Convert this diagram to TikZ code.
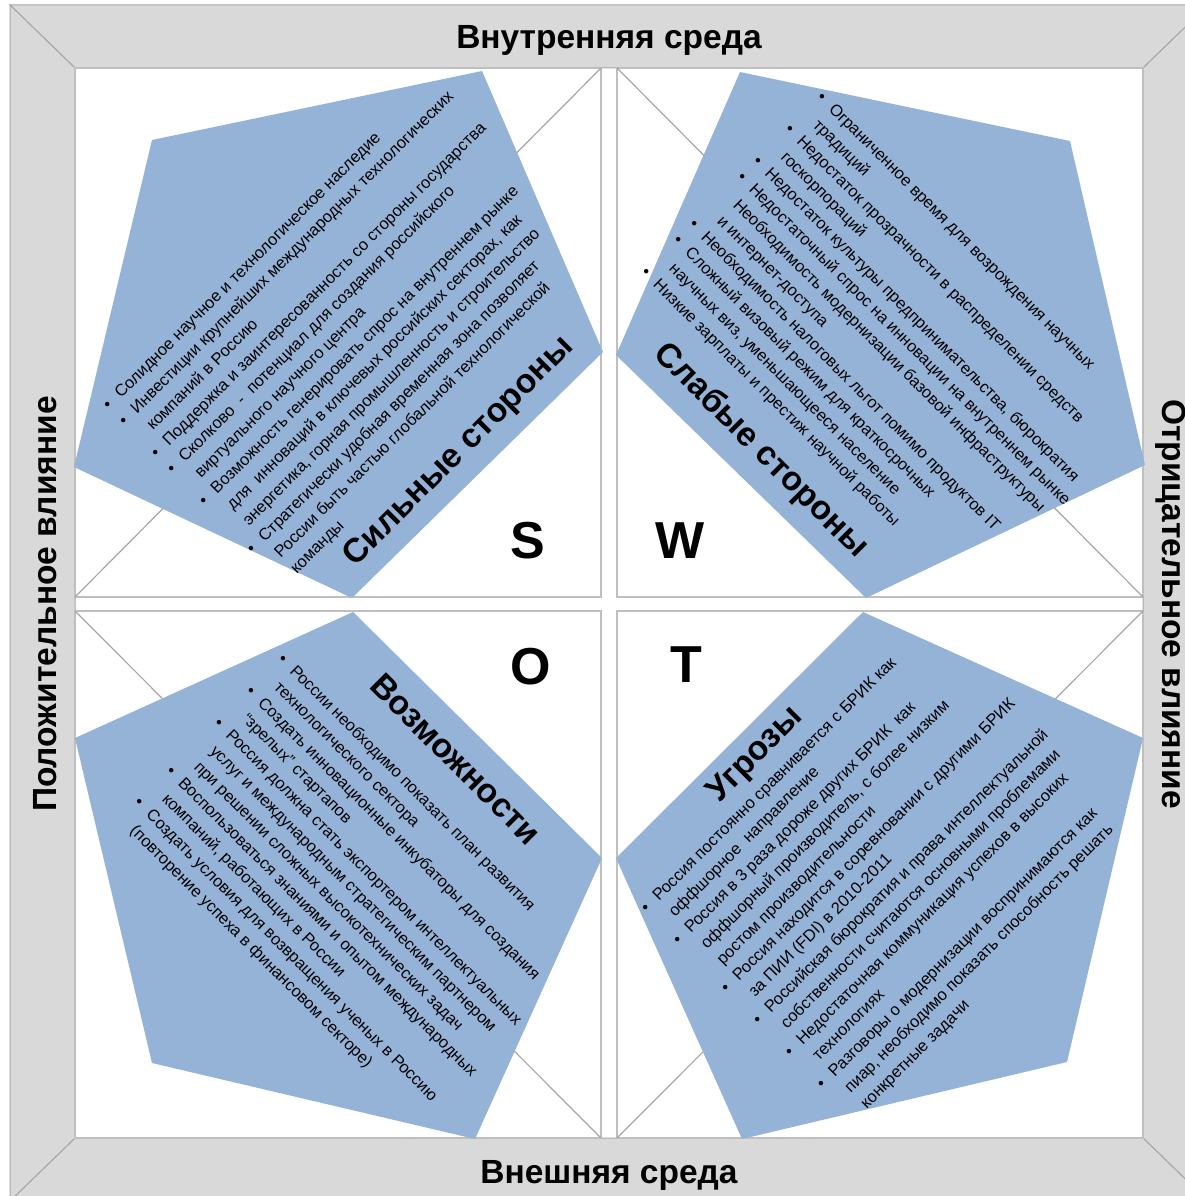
\documentclass[tikz,border=0pt]{standalone}
\usepackage{fontspec}
\setmainfont{Liberation Sans}
\definecolor{framegray}{RGB}{217,217,217}
\definecolor{framedark}{RGB}{166,166,166}
\definecolor{quadgray}{RGB}{191,191,191}
\definecolor{diaggray}{RGB}{166,166,166}
\definecolor{pentablue}{RGB}{149,179,215}
\newcommand{\bl}{\makebox[17pt][l]{\textbullet}}
\newcommand{\ct}{\hspace*{17pt}}
\begin{document}
\begin{tikzpicture}[x=1pt,y=-1pt,
  body/.style={inner sep=0pt, anchor=base west, font=\fontsize{16.5}{22.6}\selectfont},
  ttl/.style={font=\bfseries\fontsize{33.7}{36}\selectfont, inner sep=0pt},
  letter/.style={font=\bfseries\fontsize{52}{56}\selectfont, inner sep=0pt},
  side/.style={font=\bfseries\fontsize{33.5}{36}\selectfont, inner sep=0pt, anchor=base},
  frm/.style={fill=framegray, draw=framedark, line width=1pt},
  quad/.style={fill=white, draw=quadgray, line width=1.2pt},
  diag/.style={draw=diaggray, line width=1.2pt},
  penta/.style={fill=pentablue}]
\useasboundingbox (0,0) rectangle (1185,1196);
\begin{scope}
\clip (0,0) rectangle (1185,1196);
% frame
\coordinate (o1) at (10,5); \coordinate (o2) at (1208,5);
\coordinate (o3) at (1208,1201); \coordinate (o4) at (10,1201);
\coordinate (i1) at (75,68); \coordinate (i2) at (1143,68);
\coordinate (i3) at (1143,1138); \coordinate (i4) at (75,1138);
\path[frm] (o1) -- (o2) -- (i2) -- (i1) -- cycle;
\path[frm] (o2) -- (o3) -- (i3) -- (i2) -- cycle;
\path[frm] (o3) -- (o4) -- (i4) -- (i3) -- cycle;
\path[frm] (o4) -- (o1) -- (i1) -- (i4) -- cycle;
\end{scope}
% quadrants
\path[quad] (75,68) rectangle (601,597);
\path[quad] (617,68) rectangle (1143,597);
\path[quad] (75,611) rectangle (601,1138);
\path[quad] (617,611) rectangle (1143,1138);
% diamond lines
\coordinate (dT1) at (601,68); \coordinate (dL1) at (75,597);
\coordinate (dT2) at (617,68); \coordinate (dR1) at (1143,597);
\coordinate (dL2) at (75,611); \coordinate (dB1) at (601,1138);
\coordinate (dR2) at (1143,611); \coordinate (dB2) at (617,1138);
\draw[diag] (dT1) -- (dL1);
\draw[diag] (dT2) -- (dR1);
\draw[diag] (dL2) -- (dB1);
\draw[diag] (dR2) -- (dB2);
% pentagons
\path[penta] (152,140) -- (482,71) -- (603,352) -- (352,598) -- (74,467) -- cycle;
\path[penta] (740,72) -- (1070,141) -- (1145,465) -- (866,598) -- (616,355) -- cycle;
\path[penta] (75,738) -- (353,612) -- (602,858) -- (475,1139) -- (152,1063) -- cycle;
\path[penta] (1143,738) -- (863,612) -- (616,858) -- (742,1139) -- (1067,1062) -- cycle;
% TL text
\node[body, rotate=45] (tS) at (109,411) {\begin{tabular}[t]{@{}l@{}}
\bl Солидное научное и технологическое наследие\\
\bl Инвестиции крупнейших международных технологических\\
\ct компаний в Россию\\
\bl Поддержка и заинтересованность со стороны государства\\
\bl Сколково \ - \ потенциал для создания российского\\
\ct виртуального научного центра\\
\bl Возможность генерировать спрос на внутреннем рынке\\
\ct для \ инноваций в ключевых российских секторах, как\\
\ct энергетика, горная промышленность и строительство\\
\bl Стратегически удобная временная зона позволяет\\
\ct России быть частью глобальной технологической\\
\ct команды
\end{tabular}};
% TR text
\node[body, rotate=-45] (tW) at (816,98) {\begin{tabular}[t]{@{}l@{}}
\bl Ограниченное время для возрождения научных\\
\ct традиций\\
\bl Недостаток прозрачности в распределении средств\\
\ct госкорпораций\\
\bl Недостаток культуры предпринимательства, бюрократия\\
\bl Недостаточный спрос на инновации на внутреннем рынке\\
\ct Необходимость модернизации базовой инфраструктуры\\
\ct и интернет-доступа\\
\bl Необходимость налоговых льгот помимо продуктов IT\\
\bl Сложный визовый режим для краткосрочных\\
\ct научных виз, уменьшающееся население\\
\bl Низкие зарплаты и престиж научной работы
\end{tabular}};
% BL text
\node[body, rotate=-45] (tO) at (277,660) {\begin{tabular}[t]{@{}l@{}}
\bl России необходимо показать план развития\\
\ct технологического сектора\\
\bl Создать инновационные инкубаторы для создания\\
\ct “зрелых” стартапов\\
\bl Россия должна стать экспортером интеллектуальных\\
\ct услуг и международным стратегическим партнером\\
\ct при решении сложных высокотехнических задач\\
\bl Воспользоваться знаниями и опытом международных\\
\ct компаний, работающих в России\\
\bl Создать условия для возвращения ученых в Россию\\
\ct (повторение успеха в финансовом секторе)
\end{tabular}};
% BR text
\node[body, rotate=45] (tT) at (647,914) {\begin{tabular}[t]{@{}l@{}}
\bl Россия постоянно сравнивается с БРИК как\\
\ct оффшорное \ направление\\
\bl Россия в 3 раза дороже других БРИК \ как\\
\ct оффшорный производитель, с более низким\\
\ct ростом производительности\\
\bl Россия находится в соревновании с другими БРИК\\
\ct за ПИИ (FDI) в 2010-2011\\
\bl Российская бюрократия и права интеллектуальной\\
\ct собственности считаются основными проблемами\\
\bl Недостаточная коммуникация успехов в высоких\\
\ct технологиях\\
\bl Разговоры о модернизации воспринимаются как\\
\ct пиар, необходимо показать способность решать\\
\ct конкретные задачи
\end{tabular}};
% titles
\node[ttl, rotate=45] (hS) at (459,452) {Сильные стороны};
\node[ttl, rotate=-45] (hW) at (761,451) {Слабые стороны};
\node[ttl, rotate=-45] (hO) at (456,759) {Возможности};
\node[ttl, rotate=45] (hT) at (756,755) {Угрозы};
% letters
\node[letter] (lS) at (528,541) {S};
\node[letter] (lW) at (680,541) {W};
\node[letter] (lO) at (531,667) {O};
\node[letter] (lT) at (686,665) {T};
% side labels
\node[side] (sTop) at (609,49) {Внутренняя среда};
\node[side] (sBot) at (609,1183) {Внешняя среда};
\node[side, rotate=90] (sL) at (56,604) {Положительное влияние};
\node[side, rotate=-90] (sR) at (1162,604) {Отрицательное влияние};
\end{tikzpicture}
\end{document}
